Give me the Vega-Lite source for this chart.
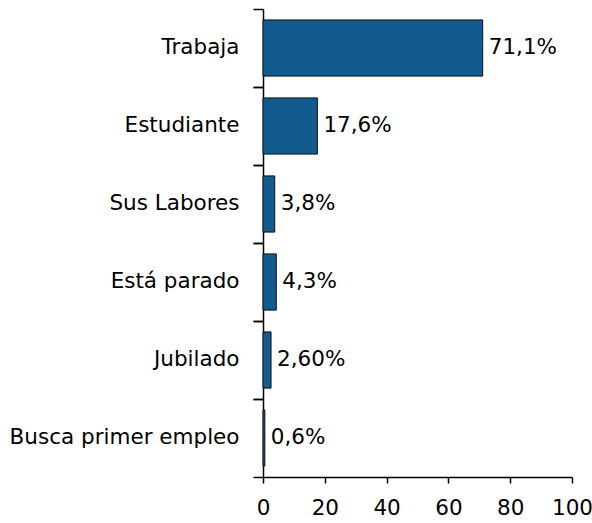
{
  "$schema": "https://vega.github.io/schema/vega-lite/v6.json",
  "width": 309,
  "height": 468,
  "autosize": {"type": "none"},
  "padding": {"left": 263, "top": 9, "right": 20, "bottom": 46},
  "background": "white",
  "config": {
    "view": {"stroke": null},
    "font": "DejaVu Sans",
    "axis": {"labelFont": "DejaVu Sans", "labelFontSize": 21.5, "labelColor": "black", "domainColor": "black", "tickColor": "black", "grid": false, "labelLimit": 400}
  },
  "data": {
    "values": [
      {"cat": "Trabaja", "value": 71.1, "label": "71,1%"},
      {"cat": "Estudiante", "value": 17.6, "label": "17,6%"},
      {"cat": "Sus Labores", "value": 3.8, "label": "3,8%"},
      {"cat": "Está parado", "value": 4.3, "label": "4,3%"},
      {"cat": "Jubilado", "value": 2.6, "label": "2,60%"},
      {"cat": "Busca primer empleo", "value": 0.6, "label": "0,6%"}
    ]
  },
  "resolve": {"axis": {"y": "independent"}},
  "layer": [
    {
      "mark": {"type": "bar", "fill": "#115b8e", "stroke": "#111111", "strokeWidth": 1, "height": {"band": 0.72}},
      "encoding": {
        "y": {"field": "cat", "type": "nominal", "sort": null, "title": null,
          "scale": {"paddingInner": 0, "paddingOuter": 0},
          "axis": {"orient": "left", "ticks": true, "tickSize": 10, "tickWidth": 1.5, "bandPosition": 0, "labelPadding": 14, "labelFontSize": 21.5, "labelLimit": 400, "domain": true, "domainWidth": 1.5}},
        "x": {"field": "value", "type": "quantitative", "title": null,
          "scale": {"domain": [0, 100], "nice": false},
          "axis": {"values": [0, 20, 40, 60, 80, 100], "tickSize": 6, "labelPadding": 14, "labelFontSize": 21.5, "domainWidth": 1.5, "tickWidth": 1.5, "labelFlush": false}}
      }
    },
    {
      "mark": {"type": "text", "align": "left", "baseline": "middle", "dx": 6, "fontSize": 21.5, "color": "black", "font": "DejaVu Sans"},
      "encoding": {
        "y": {"field": "cat", "type": "nominal", "sort": null, "title": null,
          "axis": {"orient": "left", "labels": false, "domain": false, "ticks": true, "tickSize": 10, "tickWidth": 1.5, "bandPosition": 1}},
        "x": {"field": "value", "type": "quantitative"},
        "text": {"field": "label"}
      }
    }
  ]
}
